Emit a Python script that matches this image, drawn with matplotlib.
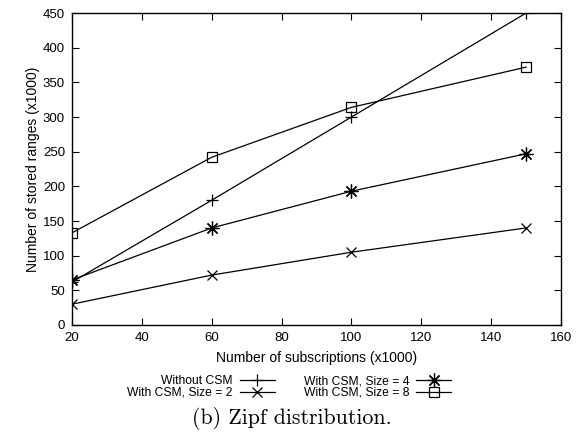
import matplotlib.pyplot as plt
import matplotlib as mpl

mpl.rcParams["font.family"] = ["Liberation Sans", "DejaVu Sans"]

# 订阅数 (x1000)
subscriptions = [20, 60, 100, 150]
# 存储的区间数 (x1000)
without_csm = [62, 180, 300, 450]
csm_size2 = [30, 72, 105, 140]
csm_size4 = [65, 140, 193, 247]
csm_size8 = [133, 242, 314, 372]

labels = ['Without CSM', 'With CSM, Size = 2', 'With CSM, Size = 4', 'With CSM, Size = 8']

fig = plt.figure(figsize=(5.84, 4.36), dpi=100)
ax = fig.add_axes([0.1233, 0.2546, 0.8373, 0.7154])

ax.plot(subscriptions, without_csm, color='black', lw=0.9, marker='+', ms=8, mew=0.9, label=labels[0])
ax.plot(subscriptions, csm_size2, color='black', lw=0.9, marker='x', ms=7, mew=0.9, label=labels[1])
ax.plot(subscriptions, csm_size4, color='black', lw=0.9, marker=(8, 2, 0), ms=10, mew=0.9, label=labels[2])
ax.plot(subscriptions, csm_size8, color='black', lw=0.9, marker='s', ms=7.5, mew=0.9,
        markerfacecolor='none', label=labels[3])

ax.set_xlim(20, 160)
ax.set_ylim(0, 450)
ax.set_xticks(range(20, 161, 20))
ax.set_yticks(range(0, 451, 50))
ax.tick_params(direction='in', top=True, right=True, length=5, width=0.8, labelsize=9.5, pad=5)
for s in ax.spines.values():
    s.set_linewidth(1.0)

ax.set_xlabel('Number of subscriptions (x1000)', fontsize=10, labelpad=5)
ax.set_ylabel('Number of stored ranges (x1000)', fontsize=10, labelpad=2)

fig.legend(ncol=2, markerfirst=False, frameon=False, fontsize=8.7,
           loc='upper center', bbox_to_anchor=(0.495, 0.153),
           handlelength=2.9, handletextpad=0.6, columnspacing=2.4,
           labelspacing=-0.05, borderpad=0)

fig.text(0.5, 0.04, '(b) Zipf distribution.', ha='center', va='center',
         fontsize=15.8, family='cmr10')

plt.savefig('out.png', dpi=100)
